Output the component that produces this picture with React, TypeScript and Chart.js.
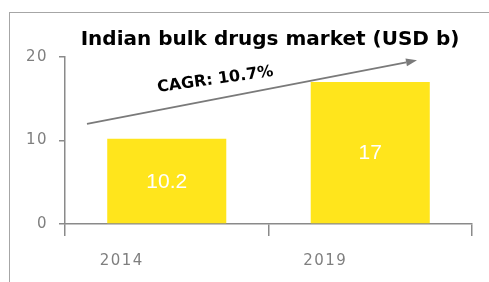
import React, { useEffect, useRef } from "react";
import { Chart, registerables } from "chart.js";

Chart.register(...registerables);

const categories: string[] = ["2014", "2019"];
const marketValues: number[] = [10.2, 17];
const yTicks: number[] = [0, 10, 20];
const titleText = "Indian bulk drugs market (USD b)";
const cagrText = "CAGR: 10.7%";
const arrowStartValue = 12;
const arrowEndValue = 19.6;

const YELLOW = "#FFE51C";
const AXIS_GRAY = "#8a8a8a";
const TEXT_GRAY = "#7f7f7f";

export default function App() {
  const canvasRef = useRef<HTMLCanvasElement | null>(null);

  useEffect(() => {
    const canvas = canvasRef.current;
    if (!canvas) return;

    const decorPlugin = {
      id: "decor",
      beforeDraw(chart: any) {
        const ctx = chart.ctx;
        ctx.save();
        ctx.strokeStyle = "#a6a6a6";
        ctx.lineWidth = 1;
        ctx.strokeRect(9.5, 12.5, 700, 400);
        ctx.restore();
        (ctx as any).letterSpacing = "1.5px";
      },
      beforeDatasetsDraw(chart: any) {
        (chart.ctx as any).letterSpacing = "0px";
      },
      afterDatasetsDraw(chart: any) {
        const ctx = chart.ctx;
        const meta = chart.getDatasetMeta(0);
        ctx.save();
        (ctx as any).letterSpacing = "0px";
        ctx.fillStyle = "#ffffff";
        ctx.font = "21px 'Liberation Sans', Arial, sans-serif";
        ctx.textAlign = "center";
        ctx.textBaseline = "middle";
        meta.data.forEach((el: any, i: number) => {
          const v = marketValues[i];
          ctx.fillText(String(v), el.x, (el.y + el.base) / 2 + 1);
        });
        ctx.restore();
      },
      afterDraw(chart: any) {
        const ctx = chart.ctx;
        const yScale = chart.scales.y;
        const area = chart.chartArea;
        ctx.save();
        (ctx as any).letterSpacing = "0px";
        // title
        ctx.fillStyle = "#000000";
        ctx.font = "bold 20px 'DejaVu Sans', sans-serif";
        ctx.textAlign = "center";
        ctx.textBaseline = "alphabetic";
        ctx.fillText(titleText, 270, 45);

        // arrow
        const x0 = area.left + 22;
        const y0 = yScale.getPixelForValue(arrowStartValue);
        const x1 = area.left + 352;
        const y1 = yScale.getPixelForValue(arrowEndValue);
        const ang = Math.atan2(y1 - y0, x1 - x0);
        const headLen = 11;
        const headW = 4;
        ctx.strokeStyle = "#7a7a7a";
        ctx.fillStyle = "#7a7a7a";
        ctx.lineWidth = 1.8;
        ctx.beginPath();
        ctx.moveTo(x0, y0);
        ctx.lineTo(x1 - Math.cos(ang) * headLen, y1 - Math.sin(ang) * headLen);
        ctx.stroke();
        ctx.beginPath();
        ctx.moveTo(x1, y1);
        const bx = x1 - Math.cos(ang) * headLen;
        const by = y1 - Math.sin(ang) * headLen;
        ctx.lineTo(bx + Math.sin(ang) * headW, by - Math.cos(ang) * headW);
        ctx.lineTo(bx - Math.sin(ang) * headW, by + Math.cos(ang) * headW);
        ctx.closePath();
        ctx.fill();

        // CAGR label
        ctx.translate(215, 78);
        ctx.rotate((-8 * Math.PI) / 180);
        ctx.fillStyle = "#000000";
        ctx.font = "bold 16px 'DejaVu Sans', sans-serif";
        ctx.textAlign = "center";
        ctx.textBaseline = "alphabetic";
        ctx.fillText(cagrText, 0, 6);
        ctx.restore();
      },
    };

    const chart = new Chart(canvas, {
      type: "bar",
      data: {
        labels: categories,
        datasets: [
          {
            data: marketValues,
            backgroundColor: YELLOW,
            borderWidth: 0,
            barPercentage: 0.585,
            categoryPercentage: 1.0,
          },
        ],
      },
      options: {
        animation: false,
        responsive: false,
        devicePixelRatio: 1,
        layout: { padding: { top: 57, right: 17, left: 0, bottom: 0 } },
        plugins: {
          legend: { display: false },
          tooltip: { enabled: false },
          title: { display: false },
        },
        scales: {
          x: {
            offset: true,
            grid: {
              offset: true,
              drawOnChartArea: false,
              drawTicks: true,
              tickLength: 12,
              color: AXIS_GRAY,
              lineWidth: 1.5,
            },
            border: { display: true, color: AXIS_GRAY, width: 1.5 },
            ticks: {
              color: TEXT_GRAY,
              font: { family: "'DejaVu Sans', sans-serif", size: 15 },
              padding: 16,
              labelOffset: -45,
              maxRotation: 0,
            },
            afterFit: (s: any) => {
              s.height = 58;
            },
          },
          y: {
            min: 0,
            max: 20,
            afterBuildTicks: (s: any) => {
              s.ticks = yTicks.map((v) => ({ value: v }));
            },
            grid: {
              drawOnChartArea: false,
              drawTicks: true,
              tickLength: 6,
              color: AXIS_GRAY,
              lineWidth: 1.5,
            },
            border: { display: true, color: AXIS_GRAY, width: 1.5 },
            ticks: {
              color: TEXT_GRAY,
              font: { family: "'DejaVu Sans', sans-serif", size: 15 },
              padding: 11,
            },
            afterFit: (s: any) => {
              s.width = 65;
            },
          },
        },
      },
      plugins: [decorPlugin],
    });

    return () => {
      chart.destroy();
    };
  }, []);

  return (
    <div
      style={{
        position: "absolute",
        left: 0,
        top: 0,
        width: 489,
        height: 282,
        background: "#ffffff",
      }}
    >
      <canvas ref={canvasRef} width={489} height={282} style={{ width: 489, height: 282 }} />
    </div>
  );
}
